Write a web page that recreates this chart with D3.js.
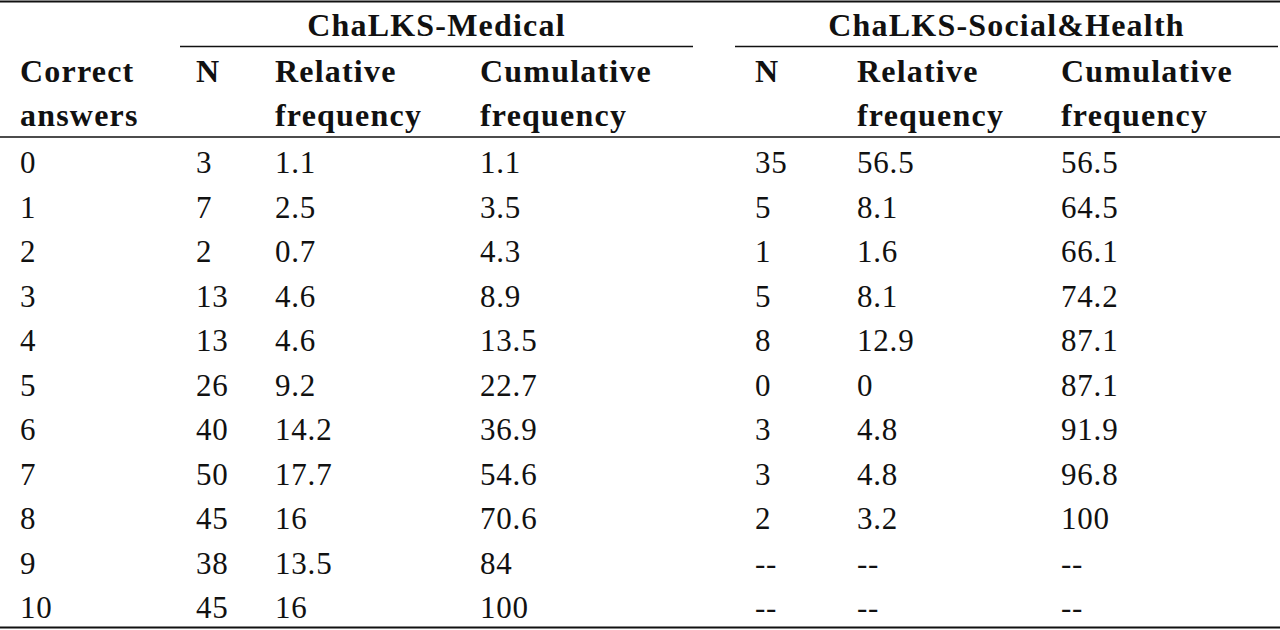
<!DOCTYPE html>
<html>
<head>
<meta charset="utf-8">
<script src="https://cdn.jsdelivr.net/npm/d3@7"></script>
<style>
  body { margin: 0; background: #fff; }
  text { font-family: "Palatino Linotype", "Book Antiqua", Palatino, "Liberation Serif", serif; fill: #111; }
  .group, .header { font-size: 32px; font-weight: bold; letter-spacing: 1.2px; }
  .cell { font-size: 31px; letter-spacing: 0.8px; }
</style>
</head>
<body>
<svg id="table" width="1280" height="630"></svg>
<script>
// -------------------- DATA -------------------- //
let correctAnswers = ["0", "1", "2", "3", "4", "5", "6", "7", "8", "9", "10"];

let medicalN   = ["3", "7", "2", "13", "13", "26", "40", "50", "45", "38", "45"];
let medicalRel = ["1.1", "2.5", "0.7", "4.6", "4.6", "9.2", "14.2", "17.7", "16", "13.5", "16"];
let medicalCum = ["1.1", "3.5", "4.3", "8.9", "13.5", "22.7", "36.9", "54.6", "70.6", "84", "100"];

let socialN   = ["35", "5", "1", "5", "8", "0", "3", "3", "2", "--", "--"];
let socialRel = ["56.5", "8.1", "1.6", "8.1", "12.9", "0", "4.8", "4.8", "3.2", "--", "--"];
let socialCum = ["56.5", "64.5", "66.1", "74.2", "87.1", "87.1", "91.9", "96.8", "100", "--", "--"];

let groups = ["ChaLKS-Medical", "ChaLKS-Social&Health"];
let columnHeaders = [
    ["Correct", "answers"],
    ["N"], ["Relative", "frequency"], ["Cumulative", "frequency"],
    ["N"], ["Relative", "frequency"], ["Cumulative", "frequency"]
];

// -------------------- LAYOUT -------------------- //
let svg = d3.select("#table");
let W = 1280;

let columns = [correctAnswers, medicalN, medicalRel, medicalCum, socialN, socialRel, socialCum];

// column left edges
let x = d3.scaleOrdinal()
    .domain(d3.range(columns.length))
    .range([20, 196, 275, 480, 755, 857, 1061]);

// row baselines
let y = d3.scaleLinear()
    .domain([0, correctAnswers.length - 1])
    .range([173, 618]);

// group spans (line extents)
let groupSpan = [[180, 693], [735, 1278]];

// -------------------- RULES -------------------- //
function rule(x1, x2, yy, w) {
    svg.append("line")
        .attr("x1", x1).attr("x2", x2)
        .attr("y1", yy).attr("y2", yy)
        .attr("stroke", "#111")
        .attr("stroke-width", w);
}

rule(0, W, 1.5, 2);
groups.forEach((g, i) => rule(groupSpan[i][0], groupSpan[i][1], 46.5, 1.5));
rule(0, W, 137, 1.5);
rule(0, W, 627.5, 2);

// -------------------- HEADERS -------------------- //
svg.selectAll(".group")
    .data(groups)
    .enter()
    .append("text")
        .attr("class", "group")
        .attr("x", (d, i) => (groupSpan[i][0] + groupSpan[i][1]) / 2)
        .attr("y", 36)
        .attr("text-anchor", "middle")
        .text(d => d);

columnHeaders.forEach((lines, c) => {
    lines.forEach((t, k) => {
        svg.append("text")
            .attr("class", "header")
            .attr("x", x(c))
            .attr("y", 82 + k * 44)
            .text(t);
    });
});

// -------------------- BODY -------------------- //
columns.forEach((col, c) => {
    svg.selectAll(".cell-" + c)
        .data(col)
        .enter()
        .append("text")
            .attr("class", "cell cell-" + c)
            .attr("x", x(c))
            .attr("y", (d, i) => y(i))
            .text(d => d);
});
</script>
</body>
</html>
